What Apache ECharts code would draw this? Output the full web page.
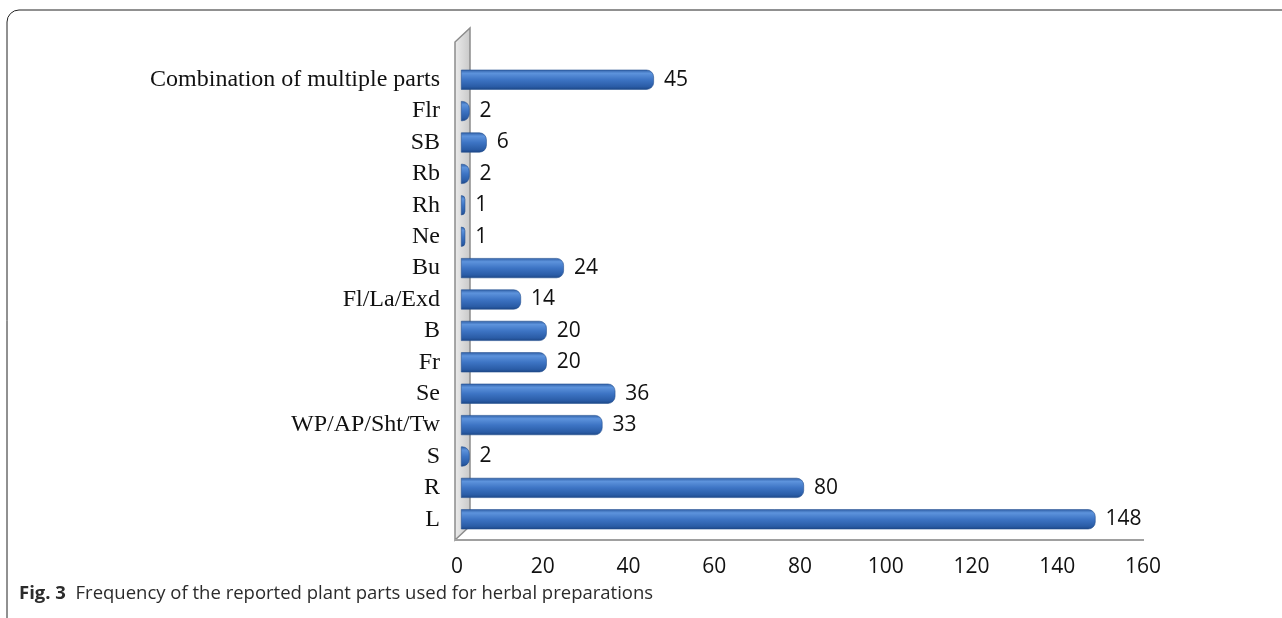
<!DOCTYPE html>
<html style="height: 100%">
<head>
    <meta charset="utf-8">
</head>
<body style="height: 100%; margin: 0; background: #fff">
<div id="parts_container" style="height: 618px; width: 1282px"></div>
<script src="https://cdn.jsdelivr.net/npm/echarts@6/dist/echarts.min.js"></script>
<script type="text/javascript">

    // plant parts, bottom to top as drawn on the y axis
    var part_names = ['L', 'R', 'S', 'WP/AP/Sht/Tw', 'Se', 'Fr', 'B', 'Fl/La/Exd', 'Bu',
        'Ne', 'Rh', 'Rb', 'SB', 'Flr', 'Combination of multiple parts'];
    var part_counts = [148, 80, 2, 33, 36, 20, 20, 14, 24, 1, 1, 2, 6, 2, 45];
    var x_ticks = [0, 20, 40, 60, 80, 100, 120, 140, 160];

    var bar_color = new echarts.graphic.LinearGradient(0, 0, 0, 1, [
        {offset: 0, color: '#2f5fa6'},
        {offset: 0.18, color: '#5d93dc'},
        {offset: 0.5, color: '#3d74c4'},
        {offset: 0.85, color: '#2a5ca6'},
        {offset: 1, color: '#1c4685'}
    ]);

    var parts_option = {
        animation: false,
        grid: {left: 461, right: 135, top: 64, bottom: 83},
        title: {
            text: '{b|Fig. 3}  Frequency of the reported plant parts used for herbal preparations',
            left: 14,
            top: 579,
            textStyle: {
                fontFamily: 'Open Sans',
                fontSize: 18.5,
                fontWeight: 'normal',
                color: '#2b2b2b',
                rich: {
                    b: {fontFamily: 'Open Sans', fontSize: 18.5, fontWeight: 'bold', color: '#2b2b2b'}
                }
            }
        },
        graphic: [
            {
                type: 'rect',
                shape: {x: 7, y: 10, width: 1400, height: 700, r: 12},
                style: {fill: 'none', stroke: '#222', lineWidth: 1}
            },
            {
                type: 'polygon',
                z: 0,
                shape: {points: [[455, 540], [455, 42], [470, 28], [470, 526]]},
                style: {
                    fill: new echarts.graphic.LinearGradient(0, 0, 1, 0, [
                        {offset: 0, color: '#ececec'},
                        {offset: 1, color: '#c8c8c8'}
                    ]),
                    stroke: '#8c8c8c',
                    lineWidth: 1.5
                }
            },
            {
                type: 'line',
                z: 0,
                shape: {x1: 455, y1: 540, x2: 1144, y2: 540},
                style: {stroke: '#a0a0a0', lineWidth: 2}
            }
        ],
        xAxis: {
            type: 'value',
            min: 0,
            max: 160,
            interval: 20,
            axisLine: {show: false},
            axisTick: {show: false},
            splitLine: {show: false},
            axisLabel: {
                margin: 22,
                padding: [0, 8, 0, 0],
                fontFamily: 'Open Sans',
                fontSize: 21,
                color: '#111',
                formatter: function (v) { return x_ticks.indexOf(v) >= 0 ? String(v) : ''; }
            }
        },
        yAxis: {
            type: 'category',
            data: part_names,
            axisLine: {show: false},
            axisTick: {show: false},
            axisLabel: {
                margin: 21,
                fontFamily: 'Liberation Serif',
                fontSize: 24,
                color: '#111'
            }
        },
        series: [
            {
                type: 'bar',
                data: part_counts,
                barWidth: 20,
                z: 3,
                itemStyle: {
                    color: bar_color,
                    borderRadius: [0, 7, 7, 0],
                    borderColor: '#244f8f',
                    borderWidth: 0.6
                },
                label: {
                    show: true,
                    position: 'right',
                    distance: 10,
                    fontFamily: 'Open Sans',
                    fontSize: 21,
                    color: '#111'
                }
            }
        ]
    };

    var parts_chart = echarts.init(document.getElementById('parts_container'));
    parts_chart.setOption(parts_option);
</script>
</body>
</html>
